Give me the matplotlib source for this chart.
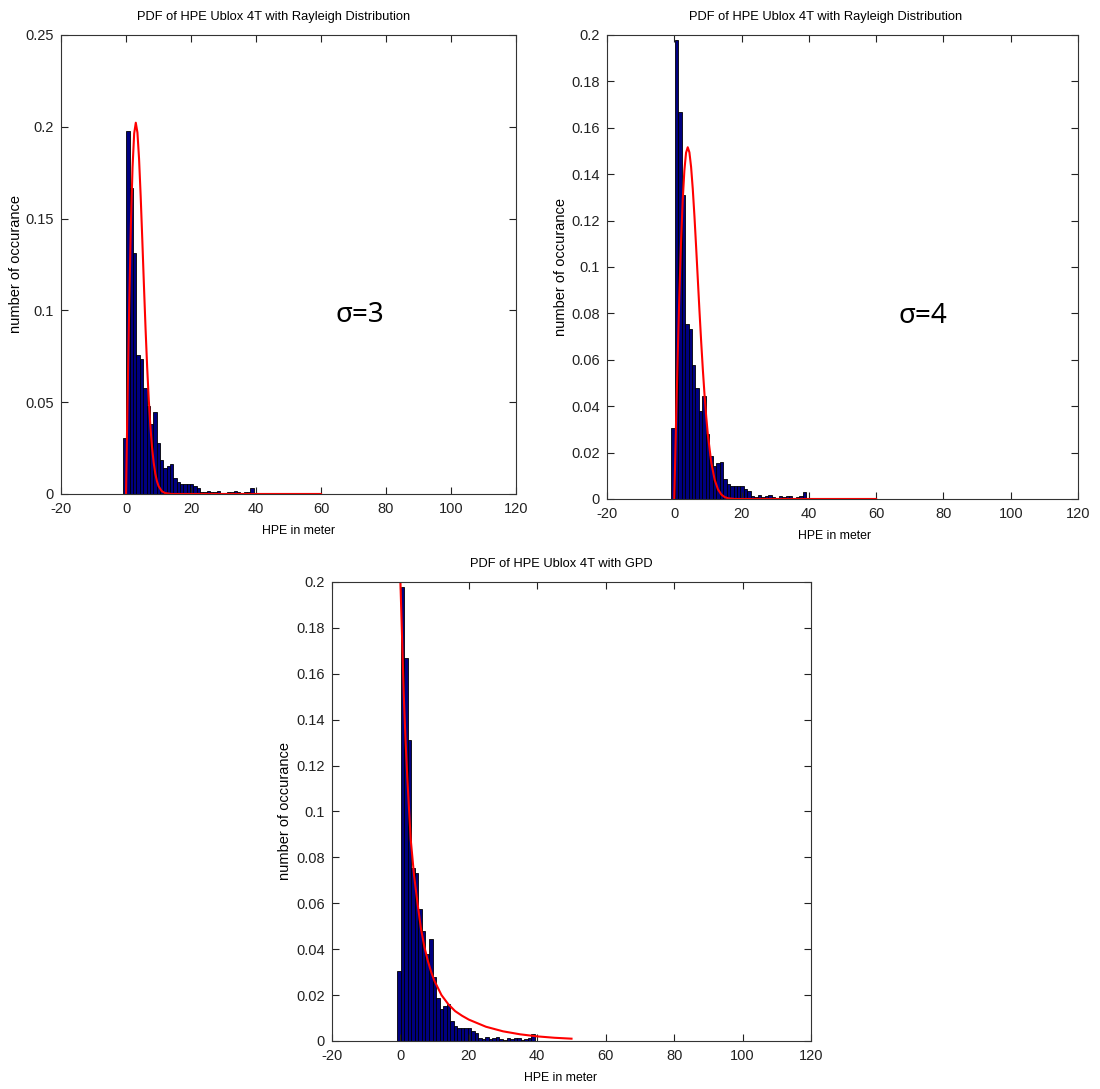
import numpy as np
import matplotlib
matplotlib.use('Agg')
import matplotlib.pyplot as plt
from matplotlib.ticker import FormatStrFormatter

plt.rcParams['font.family'] = ['Liberation Sans', 'DejaVu Sans']
plt.rcParams['axes.unicode_minus'] = False

# histogram of HPE (same data in all three panels), bin width ~1.03 m
bin_start = -0.4
bin_width = 1.03
hpe_pdf = [0.0305, 0.1977, 0.1667, 0.1312, 0.0755, 0.0734, 0.0576, 0.0480, 0.0380, 0.0445,
           0.0280, 0.0186, 0.0141, 0.0153, 0.0161, 0.0086, 0.0066, 0.0057, 0.0057, 0.0057,
           0.0055, 0.0044, 0.0033, 0.0012, 0.0010, 0.0016, 0.0010, 0.0012, 0.0016, 0.0008,
           0.0006, 0.0012, 0.0010, 0.0014, 0.0012, 0.0006, 0.0010, 0.0012, 0.0031]
bin_centers = bin_start + bin_width * np.arange(len(hpe_pdf))

# fitted curves
ray3_x = [0, 0.5, 1, 1.5, 2, 2.5, 3, 3.5, 4, 4.5, 5, 5.5, 6, 6.5, 7, 7.5, 8, 8.5, 9, 9.5,
          10, 11, 12, 14, 20, 40, 60]
ray3_y = [0, 0.0548, 0.1051, 0.1471, 0.1779, 0.1963, 0.2022, 0.1969, 0.1827, 0.1623,
          0.1386, 0.1138, 0.0902, 0.0690, 0.0511, 0.0366, 0.0254, 0.0171, 0.0111, 0.0070,
          0.0043, 0.0015, 0.0005, 0.0, 0.0, 0.0, 0.0]

ray4_x = [0, 0.5, 1, 1.5, 2, 2.5, 3, 3.5, 4, 4.5, 5, 5.5, 6, 6.5, 7, 7.5, 8, 8.5, 9, 9.5,
          10, 11, 12, 13, 14, 15, 16, 18, 60]
ray4_y = [0, 0.0310, 0.0606, 0.0874, 0.1103, 0.1285, 0.1415, 0.1492, 0.1516, 0.1494,
          0.1431, 0.1336, 0.1218, 0.1085, 0.0946, 0.0808, 0.0677, 0.0556, 0.0448, 0.0354,
          0.0275, 0.0157, 0.0083, 0.0041, 0.0019, 0.0008, 0.0003, 0.0, 0.0]

gpd_x = [0, 0.5, 1, 1.5, 2, 3, 4, 5, 6, 7, 8, 9, 10, 12, 14, 16, 18, 20, 25, 30, 35, 40, 45, 50]
gpd_y = [0.200, 0.175, 0.150, 0.131, 0.115, 0.088, 0.072, 0.060, 0.049, 0.041, 0.035, 0.030,
         0.026, 0.020, 0.016, 0.013, 0.011, 0.0093, 0.0062, 0.0042, 0.0029, 0.0020, 0.0014, 0.0010]

xticks = [-20, 0, 20, 40, 60, 80, 100, 120]

fig = plt.figure(figsize=(11, 10.89), dpi=100)


def draw_panel(ax, title, title_x, curve_x, curve_y, ymax, ystep, xlab_x):
    ax.bar(bin_centers, hpe_pdf, width=bin_width, color='#000080', edgecolor='k', linewidth=0.6)
    ax.plot(curve_x, curve_y, color='red', linewidth=1.5, clip_on=True)
    ax.set_xlim(-20, 120)
    ax.set_ylim(0, ymax)
    ax.set_xticks(xticks)
    ax.set_yticks(np.round(np.arange(0, ymax + ystep / 2, ystep), 3))
    ax.yaxis.set_major_formatter(FormatStrFormatter('%g'))
    ax.tick_params(direction='in', top=True, right=True, length=5, width=0.8,
                   labelsize=10.5, colors='#222222')
    ax.tick_params(axis='x', pad=6)
    ax.tick_params(axis='y', pad=5)
    for s in ax.spines.values():
        s.set_color('#333333')
        s.set_linewidth(0.8)
    ax.set_title(title, fontsize=9.3, x=title_x, pad=11)
    ax.set_xlabel('HPE in meter', fontsize=8.8)
    ax.set_ylabel('number of occurance', fontsize=10.5)
    ax.xaxis.set_label_coords(xlab_x, -0.067)
    ax.yaxis.set_label_coords(-0.083, 0.5)


ax1 = fig.add_axes([0.0555, 0.5464, 0.4136, 0.4215])
draw_panel(ax1, 'PDF of HPE Ublox 4T with Rayleigh Distribution', 0.468,
           ray3_x, ray3_y, 0.25, 0.05, 0.521)
ax1.text(72, 0.0975, 'σ=3', fontsize=20, ha='center', va='center',
         family=['Noto Sans', 'DejaVu Sans'])

ax2 = fig.add_axes([0.5518, 0.5418, 0.4282, 0.4261])
draw_panel(ax2, 'PDF of HPE Ublox 4T with Rayleigh Distribution', 0.465,
           ray4_x, ray4_y, 0.2, 0.02, 0.482)
ax2.text(74, 0.079, 'σ=4', fontsize=20, ha='center', va='center',
         family=['Noto Sans', 'DejaVu Sans'])

ax3 = fig.add_axes([0.3018, 0.0441, 0.4355, 0.4215])
draw_panel(ax3, 'PDF of HPE Ublox 4T with GPD', 0.478,
           gpd_x, gpd_y, 0.2, 0.02, 0.476)

fig.savefig('out.png', dpi=100)
